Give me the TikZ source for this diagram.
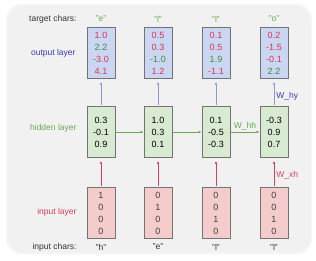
\documentclass[tikz,border=0pt]{standalone}
\usepackage{fontspec}
\setmainfont{Liberation Sans}
\usepackage{tikz}
\usetikzlibrary{arrows.meta}
\definecolor{valred}{HTML}{D63650}
\definecolor{valgreen}{HTML}{3F8C3F}
\definecolor{outfill}{HTML}{CAD6F2}
\definecolor{hidfill}{HTML}{D9EAD3}
\definecolor{infill}{HTML}{F4CCCC}
\definecolor{lblblue}{HTML}{3A3AB8}
\definecolor{lblgreen}{HTML}{6AA84F}
\definecolor{lblred}{HTML}{D2405A}
\definecolor{card}{HTML}{F1F1F1}
\newcommand{\rv}[1]{\textcolor{valred}{#1}}
\newcommand{\gv}[1]{\textcolor{valgreen}{#1}}

\begin{document}
\begin{tikzpicture}[
  x=1pt, y=-1pt,
  cell/.style={draw=black!55, line width=0.8pt, minimum width=28pt, minimum height=51pt, inner sep=0pt, align=center, font=\fontsize{9}{12}\selectfont},
  outcell/.style={cell, fill=outfill},
  hidcell/.style={cell, fill=hidfill},
  incell/.style={cell, fill=infill, text=black!75},
  lbl/.style={font=\fontsize{8.5}{10}\selectfont, anchor=east},
  chr/.style={font=\fontsize{8.5}{10}\selectfont},
  wlbl/.style={font=\fontsize{8.5}{10}\selectfont, inner sep=2pt},
  ar/.style={-{Latex[length=3pt,width=2.6pt]}, line width=0.6pt, shorten >=3pt, shorten <=1pt}
]
% background card
\fill[white] (0,0) rectangle (316,260);
\fill[black!4, rounded corners=16pt] (6,4) rectangle (312,254);
\fill[card, rounded corners=15pt] (8,6) rectangle (310,252);

% output layer
\node[outcell] (o1) at (101,53) {\rv{1.0}\\\gv{2.2}\\\rv{-3.0}\\\rv{4.1}};
\node[outcell] (o2) at (158,53) {\rv{0.5}\\\rv{0.3}\\\gv{-1.0}\\\rv{1.2}};
\node[outcell] (o3) at (216,53) {\rv{0.1}\\\rv{0.5}\\\gv{1.9}\\\rv{-1.1}};
\node[outcell] (o4) at (274,53) {\rv{0.2}\\\rv{-1.5}\\\rv{-0.1}\\\gv{2.2}};

% hidden layer
\node[hidcell] (h1) at (101,132) {0.3\\-0.1\\0.9};
\node[hidcell] (h2) at (158,132) {1.0\\0.3\\0.1};
\node[hidcell] (h3) at (216,132) {0.1\\-0.5\\-0.3};
\node[hidcell] (h4) at (274,132) {-0.3\\0.9\\0.7};

% input layer
\node[incell] (x1) at (101,213) {1\\0\\0\\0};
\node[incell] (x2) at (158,213) {0\\1\\0\\0};
\node[incell] (x3) at (216,213) {0\\0\\1\\0};
\node[incell] (x4) at (274,213) {0\\0\\1\\0};

% row labels
\node[lbl, text=black!80] (tlbl) at (80,19) {target chars:};
\node[lbl, text=lblblue] (olbl) at (79,53) {output layer};
\node[lbl, text=lblgreen] (hlbl) at (80,128) {hidden layer};
\node[lbl, text=lblred] (ilbl) at (80,212) {input layer};
\node[lbl, text=black!80] (clbl) at (80,247) {input chars:};

% characters
\node[chr, text=lblgreen] (t1) at (101,19) {"e"};
\node[chr, text=lblgreen] (t2) at (158,19) {"l"};
\node[chr, text=lblgreen] (t3) at (216,19) {"l"};
\node[chr, text=lblgreen] (t4) at (274,19) {"o"};
\node[chr, text=black!80] (c1) at (101,247) {"h"};
\node[chr, text=black!80] (c2) at (158,247) {"e"};
\node[chr, text=black!80] (c3) at (216,247) {"l"};
\node[chr, text=black!80] (c4) at (274,247) {"l"};

% connectors
\draw[ar, draw=lblblue!55] (h1) -- (o1);
\draw[ar, draw=lblblue!55] (h2) -- (o2);
\draw[ar, draw=lblblue!55] (h3) -- (o3);
\draw[ar, draw=lblblue!55] (h4) -- node[wlbl, right, pos=0.35, text=lblblue] {W\_hy} (o4);
\draw[ar, draw=lblred] (x1) -- (h1);
\draw[ar, draw=lblred] (x2) -- (h2);
\draw[ar, draw=lblred] (x3) -- (h3);
\draw[ar, draw=lblred] (x4) -- node[wlbl, right, pos=0.4, text=lblred] {W\_xh} (h4);
\draw[ar, draw=lblgreen, shorten <=0pt, shorten >=0pt] (h1) -- (h2);
\draw[ar, draw=lblgreen, shorten <=0pt, shorten >=0pt] (h2) -- (h3);
\draw[ar, draw=lblgreen, shorten <=0pt, shorten >=0pt] (h3) -- node[wlbl, above, text=lblgreen] {W\_hh} (h4);
\end{tikzpicture}
\end{document}
